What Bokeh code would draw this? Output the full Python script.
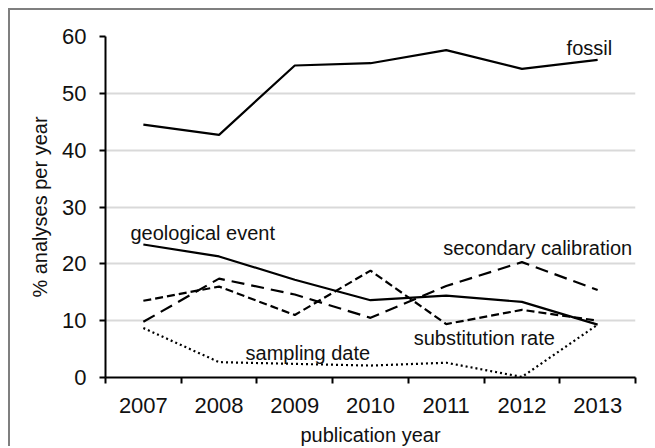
from bokeh.plotting import figure
from bokeh.models import FixedTicker, ColumnDataSource
from bokeh.core.properties import value
from bokeh.embed import file_html
from bokeh.resources import INLINE

years = [2007, 2008, 2009, 2010, 2011, 2012, 2013]
fossil = [44.5, 42.7, 54.9, 55.3, 57.6, 54.3, 55.9]
geological_event = [23.4, 21.3, 17.2, 13.6, 14.4, 13.3, 9.3]
secondary_calibration = [9.8, 17.4, 14.6, 10.5, 16.1, 20.3, 15.4]
substitution_rate = [13.5, 16.0, 11.0, 18.8, 9.4, 11.9, 10.0]
sampling_date = [8.7, 2.7, 2.4, 2.1, 2.6, 0.1, 9.3]
y_ticks = [0, 10, 20, 30, 40, 50, 60]

FONT = "Liberation Sans"
FS = "20px"
TFS = "22px"

p = figure(width=645, height=438, x_range=(2006.5, 2013.5), y_range=(0, 60),
           output_backend="svg", toolbar_location=None,
           min_border_left=95, min_border_top=26, min_border_right=20, min_border_bottom=69)
p.styles = {"border-left": "2px solid #7f7f7f", "border-top": "2px solid #7f7f7f",
            "margin-left": "8px", "margin-top": "8px"}
p.outline_line_color = None
p.background_fill_color = "white"
p.border_fill_color = "white"

p.xgrid.visible = False
p.ygrid.grid_line_color = "#d9d9d9"
p.ygrid.grid_line_width = 2

p.xaxis.ticker = FixedTicker(ticks=years, minor_ticks=[y - 0.5 for y in years] + [years[-1] + 0.5])
p.xaxis.major_label_overrides = {y: str(y) for y in years}
p.xaxis.major_tick_in = 0
p.xaxis.major_tick_out = 0
p.xaxis.minor_tick_in = 0
p.xaxis.minor_tick_out = 6
p.xaxis.minor_tick_line_color = "black"
p.xaxis.minor_tick_line_width = 2
p.xaxis.axis_label = "publication year"
p.xaxis.major_label_standoff = 14
p.xaxis.axis_label_standoff = 8

p.yaxis.ticker = FixedTicker(ticks=y_ticks)
p.yaxis.major_tick_in = 0
p.yaxis.major_tick_out = 6
p.yaxis.minor_tick_out = 0
p.yaxis.minor_tick_in = 0
p.yaxis.axis_label = "% analyses per year"
p.yaxis.major_label_standoff = 13
p.yaxis.axis_label_standoff = 8

for ax in (p.xaxis[0], p.yaxis[0]):
    ax.axis_line_color = "black"
    ax.axis_line_width = 2
    ax.major_tick_line_color = "black"
    ax.major_tick_line_width = 2
    ax.major_label_text_font = FONT
    ax.major_label_text_font_size = TFS
    ax.major_label_text_color = "#111111"
    ax.axis_label_text_font = FONT
    ax.axis_label_text_font_size = FS
    ax.axis_label_text_font_style = "normal"
    ax.axis_label_text_color = "#111111"

src = ColumnDataSource(dict(x=years, fossil=fossil, geo=geological_event,
                            sec=secondary_calibration, sub=substitution_rate,
                            samp=sampling_date))

p.line("x", "fossil", source=src, line_color="black", line_width=2.2)
p.line("x", "geo", source=src, line_color="black", line_width=2.2)
p.line("x", "sec", source=src, line_color="black", line_width=2.2, line_dash="13 7")
p.line("x", "sub", source=src, line_color="black", line_width=2.2, line_dash="8 4")
p.line("x", "samp", source=src, line_color="black", line_width=2.2, line_dash="2 3")

label_text = ["fossil", "geological event", "secondary calibration", "substitution rate", "sampling date"]
label_x = [2012.59, 2006.83, 2010.96, 2010.57, 2008.35]
label_y = [58.0, 25.5, 22.7, 7.0, 4.3]
p.text(x=label_x, y=label_y, text=label_text, text_font=value(FONT), text_font_size=FS,
       text_color="#111111", text_baseline="alphabetic", text_align="left")

open("out.html", "w").write(file_html(p, INLINE))
